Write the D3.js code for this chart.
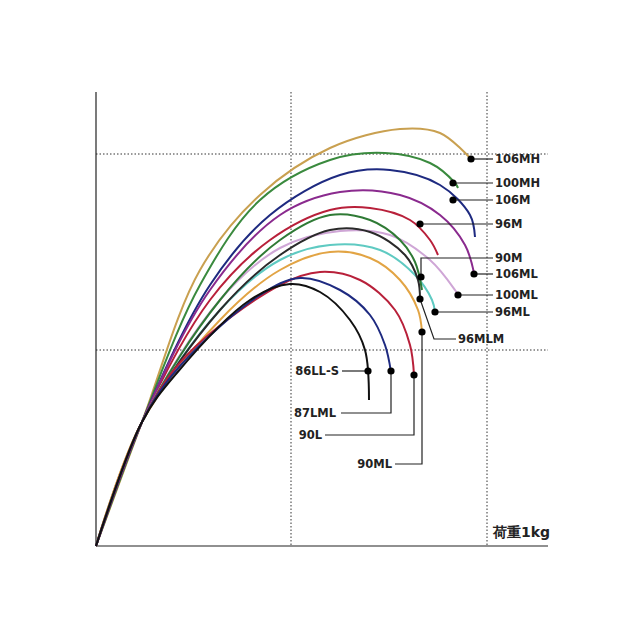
<!DOCTYPE html>
<html><head><meta charset="utf-8">
<script src="https://cdn.jsdelivr.net/npm/d3@7"></script>
<style>body{margin:0;background:#fff}text{font-family:"DejaVu Sans",sans-serif;font-weight:bold;font-size:11.5px;fill:#222}</style>
</head><body><svg id="c" width="640" height="640"></svg>
<script>
// data in grid-relative units (origin bottom-left, y up); grid step = 196
const gridX = [195, 391];
const gridY = [196, 392];
const trunk = [[0,0],[46,124]];
const names = ["106MH","100MH","106M","96M","106ML","100ML","96ML","90M","96MLM","90ML","90L","87LML","86LL-S"];
const colors = ["#c9a050","#3a8a3e","#1e2a80","#b8203a","#8a2a8e","#cfa6d6","#5fcac2","#2f7a35","#2a2a2a","#e2a444","#b8203a","#1e2a80","#111"];
const curves = [
 [[104,276],[164,351],[234,398],[304,417],[344,413],[374,388]],
 [[104,261],[164,346],[234,386],[289,393],[334,383],[359,363],[362,358]],
 [[114,261],[174,331],[244,371],[294,376],[344,361],[374,331],[379,309]],
 [[114,246],[174,306],[234,336],[274,338],[314,326],[334,306],[342,291]],
 [[114,256],[184,331],[244,354],[304,351],[344,331],[369,301],[378,273]],
 [[124,246],[184,298],[244,315],[294,311],[334,286],[359,256],[362,251]],
 [[124,236],[184,286],[234,301],[284,296],[319,271],[336,246],[339,234]],
 [[124,246],[184,306],[234,331],[274,326],[304,306],[319,284],[326,256]],
 [[124,236],[184,291],[234,316],[274,314],[309,291],[322,266],[324,246]],
 [[124,226],[184,276],[234,294],[274,288],[304,266],[322,236],[326,214]],
 [[90,190],[184,261],[224,274],[264,266],[299,236],[314,201],[318,171]],
 [[84,180],[164,251],[204,268],[244,256],[274,231],[289,201],[295,174]],
 [[80,172],[154,246],[194,262],[224,254],[254,226],[269,196],[273,146]]
];
const dots = [[375,387],[357,363],[357,346],[324,322],[378,272],[362,251],[339,234],[325,269],[324,247],[326,214],[318,171],[295,175],[272,175]];
const xLabel = "荷重1kg";

const svg = d3.select("#c");
const x = d3.scaleLinear().domain([0,452]).range([96,548]);
const y = d3.scaleLinear().domain([0,454]).range([546,92]);
const g = svg.append("g");
gridX.forEach(v=>g.append("line").attr("x1",x(v)).attr("x2",x(v)).attr("y1",y(454)).attr("y2",y(0)).attr("stroke","#333").attr("stroke-dasharray","1.5,2"));
gridY.forEach(v=>g.append("line").attr("x1",x(0)).attr("x2",x(452)).attr("y1",y(v)).attr("y2",y(v)).attr("stroke","#333").attr("stroke-dasharray","1.5,2"));
g.append("line").attr("x1",x(0)).attr("x2",x(0)).attr("y1",y(454)).attr("y2",y(0)).attr("stroke","#222").attr("stroke-width",1.2);
g.append("line").attr("x1",x(0)).attr("x2",x(452)).attr("y1",y(0)).attr("y2",y(0)).attr("stroke","#222").attr("stroke-width",1.2);
const line = d3.line().x(d=>x(d[0])).y(d=>y(d[1])).curve(d3.curveCatmullRom.alpha(0.5));
curves.forEach((c,i)=>g.append("path").attr("d",line(trunk.concat(c))).attr("fill","none").attr("stroke",colors[i]).attr("stroke-width",2));
const L = d3.line();
const lead = {
 "106MH":[[[x(375),y(387)],[493,159]],[495,163,"start"]],
 "100MH":[[[x(357),y(363)],[493,183]],[495,187,"start"]],
 "106M":[[[x(357),y(346)],[493,200]],[495,204,"start"]],
 "96M":[[[x(324),y(322)],[493,224]],[495,228,"start"]],
 "90M":[[[x(325),y(269)],[x(325),258],[493,258]],[495,262,"start"]],
 "106ML":[[[x(378),y(272)],[493,274]],[495,278,"start"]],
 "100ML":[[[x(362),y(251)],[493,295]],[495,299,"start"]],
 "96ML":[[[x(339),y(234)],[493,312]],[495,316,"start"]],
 "96MLM":[[[x(324),y(247)],[434,339],[456,339]],[458,343,"start"]],
 "90ML":[[[x(326),y(214)],[x(326),464],[395,464]],[392,468,"end"]],
 "90L":[[[x(318),y(171)],[x(318),435],[325,435]],[322,439,"end"]],
 "87LML":[[[x(295),y(175)],[x(295),413],[341,413]],[336,417,"end"]],
 "86LL-S":[[[x(272),y(175)],[342,371]],[339,375,"end"]]
};
names.forEach((n,i)=>{
 const [pts,lab]=lead[n];
 let p=pts; if(p.length===2) p=[p[0],[p[1][0],p[0][1]]];
 g.append("path").attr("d",L(p)).attr("fill","none").attr("stroke","#222").attr("stroke-width",1.2);
 g.append("circle").attr("cx",x(dots[i][0])).attr("cy",y(dots[i][1])).attr("r",3.6).attr("fill","#000");
 g.append("text").attr("x",lab[0]).attr("y",lab[1]).attr("text-anchor",lab[2]).text(n);
});
g.append("text").attr("x",493).attr("y",537).style("font-size","14px").text(xLabel);
</script></body></html>
